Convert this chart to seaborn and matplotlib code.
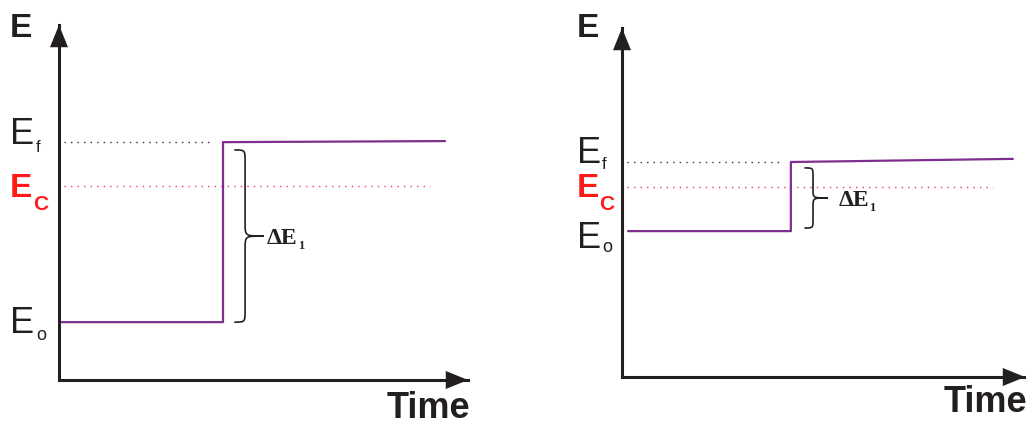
"""Two schematic step-change plots of electrode potential E vs time."""

import matplotlib

matplotlib.use("Agg")
import matplotlib.pyplot as plt
from matplotlib.path import Path
from matplotlib.patches import PathPatch
import seaborn as sns

# -----------------------------------------------------------#
#                           DATA                            #
# -----------------------------------------------------------#

# left panel: large potential step (axes run 0..10 in both directions)
left_time = [0.0, 4.01, 4.01, 9.44]
left_energy = [1.63, 1.63, 6.70, 6.73]
left_ef, left_ec, left_eo = 6.70, 5.46, 1.63
left_ef_span = [0.12, 3.77]
left_ec_span = [0.12, 9.07]

# right panel: small potential step
right_time = [0.15, 4.19, 4.19, 9.70]
right_energy = [4.18, 4.18, 6.16, 6.25]
right_ef, right_ec, right_eo = 6.16, 5.44, 4.18
right_ef_span = [0.12, 3.97]
right_ec_span = [0.12, 9.20]

delta_label = "ΔE"
delta_sub = "1"

AXIS_COLOR = "#231f20"
STEP_COLOR = "#7e2f8e"
EC_LINE = "#f5365c"
EC_TEXT = "#ff1a1a"
W, H = 1026, 426

sns.set_style("white")
plt.rcParams["font.family"] = ["Liberation Sans", "DejaVu Sans"]


def add_panel(x0, x1, y_top, y_bottom):
    ax = fig.add_axes([x0 / W, 1 - y_bottom / H, (x1 - x0) / W, (y_bottom - y_top) / H])
    ax.set_xlim(0, 10)
    ax.set_ylim(0, 10)
    ax.set_xticks([])
    ax.set_yticks([])
    ax.patch.set_alpha(0)
    for side in ["top", "right"]:
        ax.spines[side].set_visible(False)
    for side in ["left", "bottom"]:
        ax.spines[side].set_linewidth(2.2)
        ax.spines[side].set_color(AXIS_COLOR)
        ax.spines[side].set_capstyle("projecting")
    head = dict(arrowstyle="-|>,head_length=16,head_width=6.5", mutation_scale=1,
                lw=0, color=AXIS_COLOR, shrinkA=0, shrinkB=0)
    ax.annotate("", xy=(0, 1), xytext=(0, 0.9), xycoords="axes fraction", arrowprops=head)
    ax.annotate("", xy=(1, 0), xytext=(0.9, 0), xycoords="axes fraction", arrowprops=head)
    return ax


def px_text(ax, s, xy, coords, dx, dy, **kw):
    ax.annotate(s, xy=xy, xycoords=coords, xytext=(dx, dy), textcoords="offset pixels",
                va="baseline", annotation_clip=False, **kw)


def level_label(ax, y, sub, e_off, s_off, color="#231f20", weight="normal",
                esize=26, ssize=12):
    coords = ("axes fraction", "data")
    px_text(ax, "E", (0, y), coords, *e_off, color=color, fontweight=weight,
            fontsize=esize, ha="left")
    px_text(ax, sub, (0, y), coords, *s_off, color=color, fontweight=weight,
            fontsize=ssize, ha="left")


def draw_brace(ax, tip, stem, point, y_bottom, y_top, r):
    ym = (y_bottom + y_top) / 2
    verts = [
        (tip, y_top),
        (stem, y_top), (stem, y_top), (stem, y_top - r),
        (stem, ym + r),
        (stem, ym), (stem, ym), (point, ym),
        (stem, ym), (stem, ym), (stem, ym - r),
        (stem, y_bottom + r),
        (stem, y_bottom), (stem, y_bottom), (tip, y_bottom),
    ]
    codes = [Path.MOVETO] + [Path.CURVE4] * 3 + [Path.LINETO] + [Path.CURVE4] * 6 \
        + [Path.LINETO] + [Path.CURVE4] * 3
    ax.add_patch(PathPatch(Path(verts, codes), fill=False, lw=1.2, color=AXIS_COLOR,
                           capstyle="round", joinstyle="round"))
    return ym


def delta_text(ax, point, ym, dx, dy):
    serif = ["Liberation Serif", "DejaVu Serif"]
    px_text(ax, delta_label, (point, ym), "data", dx, dy, fontsize=17,
            fontweight="bold", family=serif, color=AXIS_COLOR, ha="left")
    px_text(ax, delta_sub, (point, ym), "data", dx + 31, dy - 5, fontsize=9,
            fontweight="bold", family=serif, color=AXIS_COLOR, ha="left")


def draw_panel(ax, time, energy, ef, ec, ef_span, ec_span, time_dy):
    ax.plot(ef_span, [ef, ef], color="#333333", lw=1.0, linestyle=(0, (1, 3.7)))
    ax.plot(ec_span, [ec, ec], color=EC_LINE, lw=1.0, linestyle=(0, (1, 3.7)))
    sns.lineplot(x=time, y=energy, estimator=None, sort=False, color=STEP_COLOR,
                 lw=1.6, ax=ax)
    # axis titles
    px_text(ax, "Time", (1, 0), "axes fraction", 2, time_dy, fontsize=26,
            fontweight="bold", color=AXIS_COLOR, ha="right")


fig = plt.figure(figsize=(W / 100, H / 100), dpi=100)

# ----------------------------- left ------------------------------
ax1 = add_panel(59, 468, 25, 380)
draw_panel(ax1, left_time, left_energy, left_ef, left_ec, left_ef_span, left_ec_span, -38)
px_text(ax1, "E", (0, 1), "axes fraction", -49, -12, fontsize=24, fontweight="bold",
        color=AXIS_COLOR, ha="left")
level_label(ax1, left_ef, "f", (-49, -2), (-23, -10))
level_label(ax1, left_ec, "C", (-49, -11), (-26, -24), color=EC_TEXT, weight="bold",
            esize=24, ssize=15)
level_label(ax1, left_eo, "o", (-49, -11), (-23, -18), ssize=13)
ym1 = draw_brace(ax1, 4.30, 4.55, 4.99, left_eo, 6.48, 0.35)
delta_text(ax1, 4.99, ym1, 4, -8)

# ----------------------------- right -----------------------------
ax2 = add_panel(622, 1025, 28, 377)
draw_panel(ax2, right_time, right_energy, right_ef, right_ec, right_ef_span,
           right_ec_span, -35)
px_text(ax2, "E", (0, 1), "axes fraction", -45, -9, fontsize=24, fontweight="bold",
        color=AXIS_COLOR, ha="left")
level_label(ax2, right_ef, "f", (-45, -1), (-20, -7))
level_label(ax2, right_ec, "C", (-45, -10), (-23, -23), color=EC_TEXT, weight="bold",
            esize=24, ssize=15)
level_label(ax2, right_eo, "o", (-45, -17), (-20, -21), ssize=13)
ym2 = draw_brace(ax2, 4.54, 4.74, 5.09, 4.27, 5.99, 0.25)
delta_text(ax2, 5.09, ym2, 11, -8)

fig.savefig("out.png", dpi=100)
